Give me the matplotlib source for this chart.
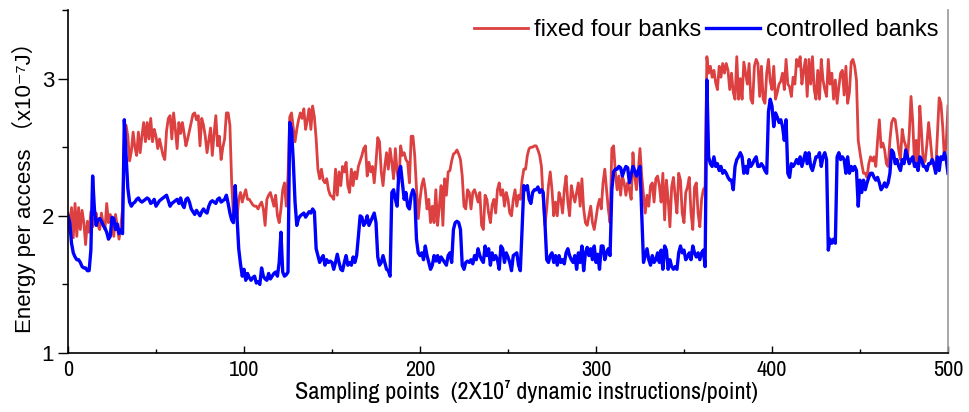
import numpy as np
import matplotlib
matplotlib.use('Agg')
import matplotlib.pyplot as plt
from matplotlib.ticker import MultipleLocator

# one value per sampling point
points = np.arange(0, 501)

fixed_four_banks = [
    2.02, 1.88, 2.06, 1.84, 2.09, 1.85, 2.06, 1.90, 2.04, 1.95,
    1.79, 1.96, 1.88, 2.03, 1.92, 1.98, 2.02, 1.93, 1.90, 2.02,
    1.94, 1.90, 2.09, 1.95, 2.01, 1.93, 1.85, 2.01, 1.92, 1.83,
    1.92, 2.05, 2.55, 2.66, 2.58, 2.40, 2.47, 2.61, 2.50, 2.44,
    2.61, 2.46, 2.58, 2.68, 2.54, 2.68, 2.56, 2.71, 2.54, 2.63,
    2.58, 2.49, 2.56, 2.50, 2.44, 2.41, 2.62, 2.71, 2.73, 2.56,
    2.75, 2.63, 2.49, 2.68, 2.60, 2.68, 2.60, 2.51, 2.56, 2.62,
    2.68, 2.74, 2.75, 2.70, 2.73, 2.51, 2.71, 2.66, 2.58, 2.46,
    2.55, 2.64, 2.44, 2.60, 2.73, 2.51, 2.58, 2.41, 2.50, 2.56,
    2.75, 2.75, 2.66, 2.24, 2.00, 2.18, 1.98, 2.12, 2.17, 2.10,
    2.15, 2.19, 2.12, 2.12, 2.10, 2.08, 2.07, 2.07, 2.05, 2.08,
    2.10, 2.05, 1.93, 2.12, 2.15, 2.17, 2.12, 2.07, 2.15, 2.00,
    1.95, 2.05, 2.19, 2.24, 2.07, 2.29, 2.72, 2.75, 2.64, 2.54,
    2.63, 2.70, 2.75, 2.71, 2.78, 2.63, 2.70, 2.78, 2.63, 2.80,
    2.72, 2.56, 2.34, 2.27, 2.34, 2.26, 2.24, 2.27, 2.19, 2.15,
    2.14, 2.12, 2.34, 2.15, 2.32, 2.22, 2.36, 2.32, 2.39, 2.22,
    2.17, 2.34, 2.22, 2.32, 2.27, 2.36, 2.40, 2.44, 2.49, 2.51,
    2.29, 2.39, 2.32, 2.36, 2.24, 2.39, 2.57, 2.54, 2.32, 2.22,
    2.36, 2.46, 2.34, 2.49, 2.39, 2.27, 2.49, 2.32, 2.24, 2.51,
    2.44, 2.46, 2.41, 2.39, 2.24, 2.58, 2.58, 2.44, 2.20, 1.98,
    2.12, 2.22, 2.27, 2.19, 2.05, 2.12, 1.95, 2.07, 1.95, 2.19,
    1.93, 2.07, 2.22, 1.93, 2.27, 2.15, 2.32, 2.33, 2.40, 2.45,
    2.46, 2.48, 2.45, 2.41, 2.29, 2.07, 2.05, 2.19, 2.17, 2.05,
    2.17, 2.19, 2.15, 2.10, 2.17, 1.93, 1.90, 2.15, 2.12, 2.02,
    1.95, 2.08, 2.12, 2.02, 2.19, 2.24, 2.15, 2.19, 2.07, 2.17,
    2.12, 2.02, 2.00, 2.12, 2.19, 2.07, 2.15, 2.12, 2.26, 2.34,
    2.34, 2.44, 2.49, 2.50, 2.50, 2.51, 2.51, 2.48, 2.44, 2.36,
    2.12, 1.93, 2.05, 2.22, 2.32, 2.19, 2.00, 2.10, 2.00, 2.17,
    2.12, 2.02, 2.19, 2.29, 2.10, 2.00, 2.22, 2.15, 2.10, 2.17,
    2.24, 2.07, 2.27, 2.05, 1.95, 1.93, 2.00, 2.07, 1.95, 1.90,
    1.98, 2.07, 2.12, 2.05, 2.24, 2.34, 2.19, 2.05, 1.95, 2.49,
    2.51, 2.32, 2.19, 2.29, 2.15, 2.29, 2.24, 2.15, 2.24, 2.19,
    2.12, 2.46, 2.29, 2.19, 2.32, 2.49, 2.29, 2.15, 2.02, 2.15,
    2.07, 2.22, 2.24, 2.10, 2.27, 2.29, 2.22, 2.10, 2.31, 1.97,
    2.26, 2.12, 1.92, 2.21, 2.28, 2.14, 2.02, 2.31, 2.26, 2.02,
    1.95, 2.17, 2.21, 2.28, 2.02, 1.90, 2.21, 2.24, 2.02, 1.92,
    2.12, 2.19, 2.21, 3.16, 3.04, 3.09, 3.01, 3.06, 2.97, 2.92,
    3.09, 3.01, 3.11, 3.04, 3.11, 3.06, 2.92, 3.04, 2.90, 2.85,
    3.16, 2.85, 3.00, 2.85, 3.12, 3.04, 2.96, 3.11, 2.85, 2.82,
    3.09, 3.14, 3.11, 2.87, 3.09, 2.85, 2.82, 3.04, 3.14, 2.98,
    2.92, 3.09, 2.85, 2.90, 2.96, 2.98, 3.04, 2.92, 3.14, 2.96,
    2.94, 2.87, 3.01, 2.96, 3.14, 3.09, 3.16, 2.96, 3.06, 3.14,
    2.87, 3.14, 2.96, 3.16, 2.92, 2.85, 3.06, 2.85, 3.14, 2.99,
    2.92, 2.87, 3.14, 2.96, 3.04, 2.85, 2.99, 2.82, 2.94, 3.04,
    3.06, 2.88, 3.09, 2.82, 2.90, 3.12, 3.14, 3.09, 2.99, 2.55,
    2.46, 2.38, 2.31, 2.31, 2.28, 2.38, 2.43, 2.40, 2.43, 2.36,
    2.55, 2.70, 2.50, 2.53, 2.48, 2.38, 2.36, 2.55, 2.68, 2.71,
    2.70, 2.60, 2.48, 2.41, 2.63, 2.55, 2.51, 2.41, 2.60, 2.87,
    2.68, 2.38, 2.55, 2.36, 2.80, 2.60, 2.38, 2.40, 2.52, 2.68,
    2.55, 2.41, 2.36, 2.33, 2.60, 2.86, 2.82, 2.65, 2.41, 2.53,
    2.80,
]

controlled_banks = [
    2.00, 1.95, 1.80, 1.73, 1.70, 1.68, 1.68, 1.66, 1.63, 1.62,
    1.62, 1.60, 1.60, 1.75, 2.29, 2.05, 1.93, 1.97, 1.98, 1.96,
    1.93, 1.91, 1.88, 1.83, 1.85, 1.99, 1.98, 1.90, 1.94, 1.87,
    1.90, 1.87, 2.70, 2.44, 2.20, 2.10, 2.07, 2.09, 2.10, 2.12,
    2.13, 2.11, 2.10, 2.11, 2.12, 2.13, 2.12, 2.09, 2.10, 2.12,
    2.07, 2.09, 2.11, 2.12, 2.13, 2.14, 2.15, 2.11, 2.07, 2.09,
    2.10, 2.11, 2.12, 2.09, 2.13, 2.08, 2.06, 2.12, 2.13, 2.10,
    2.05, 2.03, 2.01, 2.04, 2.02, 2.00, 2.03, 2.05, 2.03, 2.02,
    2.07, 2.10, 2.11, 2.10, 2.09, 2.12, 2.13, 2.10, 2.11, 2.12,
    2.15, 2.09, 2.02, 1.97, 1.95, 2.22, 2.00, 1.76, 1.65, 1.56,
    1.61, 1.53, 1.58, 1.55, 1.53, 1.55, 1.56, 1.51, 1.52, 1.50,
    1.62, 1.56, 1.54, 1.53, 1.58, 1.54, 1.56, 1.58, 1.59, 1.56,
    1.66, 1.88, 1.59, 1.56, 1.57, 1.59, 2.68, 2.63, 2.40, 2.10,
    1.93, 1.98, 2.00, 2.01, 2.02, 1.99, 2.01, 2.03, 2.02, 2.05,
    2.03, 1.76, 1.71, 1.66, 1.69, 1.71, 1.64, 1.68, 1.66, 1.67,
    1.66, 1.61, 1.66, 1.72, 1.66, 1.61, 1.60, 1.66, 1.71, 1.64,
    1.66, 1.64, 1.70, 1.66, 1.71, 1.85, 2.00, 1.99, 1.93, 1.95,
    2.00, 1.93, 1.96, 1.99, 2.02, 1.95, 1.70, 1.64, 1.66, 1.71,
    1.66, 1.61, 1.60, 1.56, 2.17, 2.19, 2.12, 2.07, 2.32, 2.36,
    2.24, 2.12, 2.17, 2.07, 2.05, 2.15, 2.19, 2.15, 1.83, 1.73,
    1.71, 1.73, 1.68, 1.78, 1.71, 1.66, 1.61, 1.64, 1.71, 1.67,
    1.71, 1.66, 1.70, 1.68, 1.66, 1.64, 1.71, 1.73, 1.66, 1.90,
    1.95, 1.96, 1.95, 1.90, 1.64, 1.61, 1.66, 1.67, 1.66, 1.68,
    1.65, 1.71, 1.68, 1.76, 1.71, 1.68, 1.66, 1.78, 1.71, 1.76,
    1.64, 1.73, 1.68, 1.71, 1.68, 1.61, 1.78, 1.76, 1.66, 1.73,
    1.70, 1.66, 1.60, 1.71, 1.72, 1.73, 1.64, 1.60, 1.90, 2.22,
    2.19, 2.22, 2.12, 2.09, 2.17, 2.19, 2.19, 2.21, 2.17, 2.19,
    2.17, 1.95, 1.68, 1.66, 1.71, 1.73, 1.66, 1.71, 1.64, 1.71,
    1.66, 1.68, 1.65, 1.73, 1.76, 1.71, 1.68, 1.66, 1.71, 1.61,
    1.73, 1.66, 1.78, 1.60, 1.73, 1.77, 1.71, 1.76, 1.68, 1.78,
    1.66, 1.72, 1.61, 1.78, 1.78, 1.68, 1.73, 1.76, 1.71, 2.19,
    2.32, 2.34, 2.34, 2.36, 2.35, 2.29, 2.33, 2.36, 2.35, 2.24,
    2.30, 2.36, 2.33, 2.29, 2.33, 2.36, 2.00, 1.66, 1.71, 1.76,
    1.68, 1.64, 1.71, 1.66, 1.68, 1.73, 1.66, 1.75, 1.61, 1.78,
    1.75, 1.61, 1.68, 1.63, 1.61, 1.63, 1.61, 1.73, 1.78, 1.73,
    1.75, 1.68, 1.70, 1.73, 1.68, 1.78, 1.73, 1.70, 1.73, 1.68,
    1.73, 1.75, 1.63, 2.99, 2.43, 2.38, 2.36, 2.43, 2.36, 2.38,
    2.33, 2.36, 2.31, 2.33, 2.31, 2.28, 2.26, 2.26, 2.19, 2.36,
    2.41, 2.43, 2.46, 2.43, 2.31, 2.36, 2.31, 2.41, 2.36, 2.38,
    2.41, 2.43, 2.36, 2.36, 2.38, 2.36, 2.33, 2.31, 2.76, 2.85,
    2.80, 2.65, 2.75, 2.72, 2.68, 2.70, 2.65, 2.55, 2.70, 2.31,
    2.28, 2.38, 2.36, 2.38, 2.41, 2.38, 2.43, 2.36, 2.41, 2.46,
    2.38, 2.46, 2.36, 2.33, 2.38, 2.43, 2.43, 2.46, 2.36, 2.43,
    2.46, 2.41, 1.75, 1.83, 1.80, 1.83, 1.80, 2.43, 2.46, 2.41,
    2.43, 2.41, 2.31, 2.43, 2.31, 2.36, 2.33, 2.36, 2.33, 2.07,
    2.26, 2.17, 2.26, 2.19, 2.24, 2.28, 2.31, 2.31, 2.28, 2.26,
    2.28, 2.24, 2.19, 2.21, 2.24, 2.21, 2.24, 2.31, 2.48, 2.46,
    2.38, 2.41, 2.36, 2.33, 2.41, 2.38, 2.48, 2.43, 2.38, 2.41,
    2.43, 2.36, 2.38, 2.33, 2.43, 2.41, 2.36, 2.36, 2.33, 2.38,
    2.38, 2.41, 2.38, 2.31, 2.43, 2.33, 2.43, 2.41, 2.46, 2.41,
    2.31,
]

series_labels = ['fixed four banks', 'controlled banks']
xticks = [0, 100, 200, 300, 400, 500]
yticks = [1, 2, 3]

narrow = ['Archivo Narrow', 'Liberation Sans', 'DejaVu Sans']
plain = ['Liberation Sans', 'Noto Sans CJK SC', 'DejaVu Sans']

fig = plt.figure(figsize=(9.7, 4.12), dpi=100)
ax = fig.add_axes([0.0701, 0.1432, 0.9072, 0.8325])

ax.plot(points, fixed_four_banks, color='#DC4040', lw=2.0, label=series_labels[0])
ax.plot(points, controlled_banks, color='#0000FF', lw=2.4, label=series_labels[1])

ax.set_xlim(0, 500)
ax.set_ylim(1, 3.5)
ax.set_xticks(xticks)
ax.set_yticks(yticks)
ax.xaxis.set_minor_locator(MultipleLocator(50))
ax.yaxis.set_minor_locator(MultipleLocator(0.5))
ax.tick_params(axis='x', which='major', direction='in', length=5, width=1, pad=5)
ax.tick_params(axis='x', which='minor', direction='in', length=3, width=1)
ax.tick_params(axis='y', which='major', direction='out', length=7, width=1, pad=3)
ax.tick_params(axis='y', which='minor', direction='out', length=4, width=1)

for lab in ax.get_xticklabels():
    lab.set_fontfamily(narrow)
    lab.set_fontsize(16)
for lab in ax.get_yticklabels():
    lab.set_fontfamily(plain)
    lab.set_fontsize(16)

ax.spines['top'].set_visible(False)
ax.spines['right'].set_color('#999999')
for s in ['left', 'bottom', 'right']:
    ax.spines[s].set_linewidth(1.2)

ax.set_xlabel('Sampling points  (2X10\u2077 dynamic instructions/point)',
              family=narrow, fontsize=17.5)
ax.xaxis.set_label_coords(0.5216, -0.08)
ax.set_ylabel('Energy per access \uff08x10\u207b\u2077J\uff09',
              family=plain, fontsize=16, labelpad=4)

ax.legend(loc='upper right', ncol=2, frameon=False,
          prop={'family': plain, 'size': 17},
          handlelength=2.3, handletextpad=0.25, columnspacing=0.2,
          borderaxespad=0.3, borderpad=0.1)

fig.savefig('out.png', dpi=100)
